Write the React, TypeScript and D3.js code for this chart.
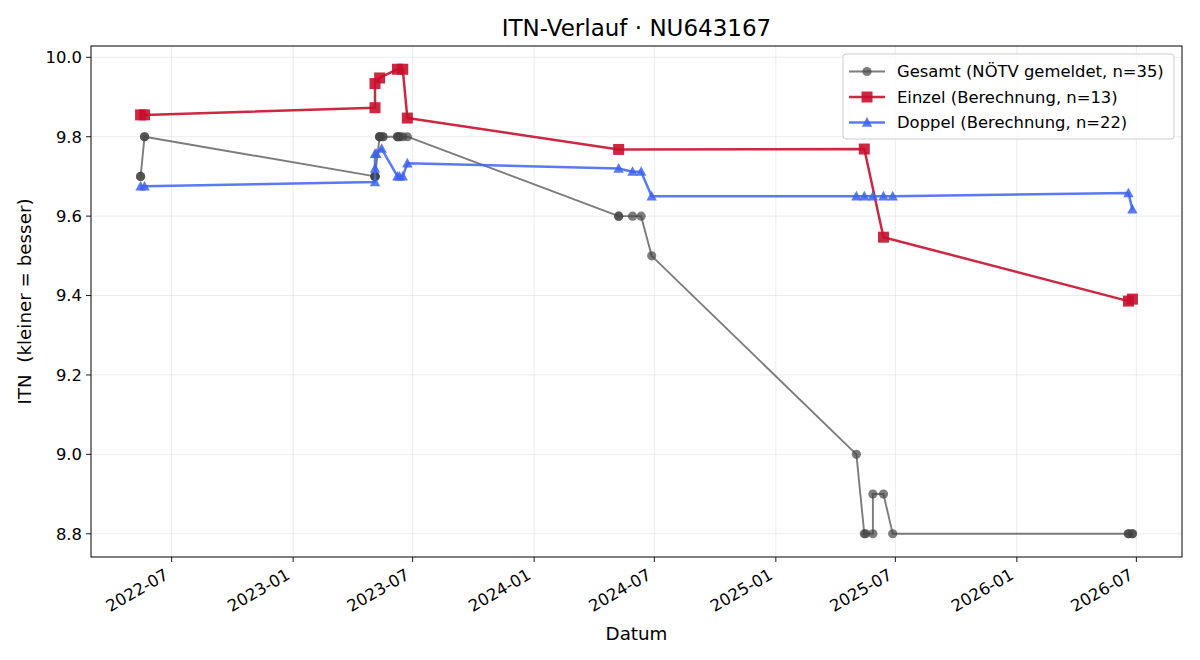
import React from "react";
import * as d3 from "d3";

// Gesamt-ITN laut NÖTV (ein Eintrag je gemeldetem Spiel)
const gesamtDates = [
  "2022-05-15", "2022-05-15", "2022-05-21", "2022-05-21",
  "2023-05-05", "2023-05-05", "2023-05-05", "2023-05-05",
  "2023-05-12", "2023-05-12", "2023-05-12", "2023-05-17", "2023-05-17",
  "2023-06-08", "2023-06-08", "2023-06-11", "2023-06-11", "2023-06-16", "2023-06-23",
  "2024-05-08", "2024-05-08", "2024-05-29", "2024-06-11", "2024-06-27",
  "2025-05-03", "2025-05-15", "2025-05-17", "2025-05-28", "2025-05-28", "2025-06-13", "2025-06-27",
  "2026-06-19", "2026-06-19", "2026-06-25", "2026-06-25",
];
const gesamtValues = [
  9.7, 9.7, 9.8, 9.8,
  9.7, 9.7, 9.7, 9.7,
  9.8, 9.8, 9.8, 9.8, 9.8,
  9.8, 9.8, 9.8, 9.8, 9.8, 9.8,
  9.6, 9.6, 9.6, 9.6, 9.5,
  9.0, 8.8, 8.8, 8.8, 8.9, 8.9, 8.8,
  8.8, 8.8, 8.8, 8.8,
];

// Einzel-ITN (Berechnung)
const einzelDates = [
  "2022-05-15", "2022-05-21", "2023-05-05", "2023-05-05", "2023-05-12",
  "2023-06-08", "2023-06-16", "2023-06-23", "2024-05-08", "2025-05-15",
  "2025-06-13", "2026-06-19", "2026-06-25",
];
const einzelValues = [
  9.855, 9.855, 9.873, 9.934, 9.948,
  9.970, 9.970, 9.847, 9.768, 9.769,
  9.547, 9.386, 9.391,
];

// Doppel-ITN (Berechnung)
const doppelDates = [
  "2022-05-15", "2022-05-21",
  "2023-05-05", "2023-05-05", "2023-05-05", "2023-05-07", "2023-05-15",
  "2023-06-08", "2023-06-11", "2023-06-16", "2023-06-23",
  "2024-05-08", "2024-05-29", "2024-06-11", "2024-06-27",
  "2025-05-03", "2025-05-15", "2025-05-28", "2025-06-13", "2025-06-27",
  "2026-06-19", "2026-06-25",
];
const doppelValues = [
  9.675, 9.675,
  9.686, 9.72, 9.757, 9.757, 9.77,
  9.70, 9.70, 9.70, 9.733,
  9.72, 9.712, 9.712, 9.65,
  9.65, 9.65, 9.65, 9.65, 9.65,
  9.658, 9.617,
];

const yTicks = [8.8, 9.0, 9.2, 9.4, 9.6, 9.8, 10.0];
const xTickLabels = [
  "2022-07", "2023-01", "2023-07", "2024-01", "2024-07",
  "2025-01", "2025-07", "2026-01", "2026-07",
];

const W = 1200;
const H = 660;
const M = { left: 91, right: 18, top: 46, bottom: 103 };
const FONT = "DejaVu Sans, sans-serif";
const TICK_FS = 16.4;
const LEGEND_FS = 16.4;
const LABEL_FS = 18.3;
const TITLE_FS = 23;

const parse = d3.utcParse("%Y-%m-%d");
const parseMonth = d3.utcParse("%Y-%m");

type Pt = { d: Date; v: number };
const toPts = (ds: string[], vs: number[]): Pt[] =>
  ds.map((s, i) => ({ d: parse(s) as Date, v: vs[i] }));

const gesamt = toPts(gesamtDates, gesamtValues);
const einzel = toPts(einzelDates, einzelValues);
const doppel = toPts(doppelDates, doppelValues);

const series = [
  { key: "g", label: `Gesamt (NÖTV gemeldet, n=${gesamt.length})`, pts: gesamt, color: "#444444", opacity: 0.7, width: 1.9, marker: "circle" },
  { key: "e", label: `Einzel (Berechnung, n=${einzel.length})`, pts: einzel, color: "#c8102e", opacity: 0.9, width: 2.5, marker: "square" },
  { key: "d", label: `Doppel (Berechnung, n=${doppel.length})`, pts: doppel, color: "#3d62f2", opacity: 0.85, width: 2.5, marker: "triangle" },
];

function Marker({ type, x, y, color, opacity }: { type: string; x: number; y: number; color: string; opacity: number }) {
  if (type === "circle") return <circle cx={x} cy={y} r={4.6} fill={color} fillOpacity={opacity} />;
  if (type === "square") return <rect x={x - 5.5} y={y - 5.5} width={11} height={11} fill={color} fillOpacity={opacity} />;
  const s = 5.2;
  return <path d={`M${x},${y - s * 1.05}L${x + s},${y + s * 0.8}L${x - s},${y + s * 0.8}Z`} fill={color} fillOpacity={opacity} />;
}

export default function App() {
  const all = [...gesamt, ...einzel, ...doppel];
  const [d0, d1] = d3.extent(all, (p) => p.d.getTime()) as [number, number];
  const [v0, v1] = d3.extent(all, (p) => p.v) as [number, number];
  const dp = (d1 - d0) * 0.05;
  const vp = (v1 - v0) * 0.05;

  const x = d3.scaleUtc().domain([new Date(d0 - dp), new Date(d1 + dp)]).range([M.left, W - M.right]);
  const y = d3.scaleLinear().domain([v0 - vp, v1 + vp]).range([H - M.bottom, M.top]);

  const line = d3.line<Pt>().x((p) => x(p.d)).y((p) => y(p.v));
  const xTicks = xTickLabels.map((s) => ({ s, d: parseMonth(s) as Date }));
  const plotB = H - M.bottom;
  const plotR = W - M.right;

  const lgX = 843, lgY = 54, lgW = 331, lgH = 85;

  return (
    <svg width={W} height={H} style={{ position: "absolute", left: 0, top: 0, background: "#fff" }} fontFamily={FONT}>
      <rect x={0} y={0} width={W} height={H} fill="#fff" />
      {/* grid */}
      <g stroke="#b0b0b0" strokeOpacity={0.3} strokeWidth={0.8}>
        {xTicks.map((t) => (
          <line key={t.s} x1={x(t.d)} x2={x(t.d)} y1={M.top} y2={plotB} />
        ))}
        {yTicks.map((t) => (
          <line key={t} x1={M.left} x2={plotR} y1={y(t)} y2={y(t)} />
        ))}
      </g>

      {/* series: line first, then markers, each with its own alpha */}
      {series.map((s) => (
        <g key={s.key}>
          <path d={line(s.pts) || ""} fill="none" stroke={s.color} strokeOpacity={s.opacity} strokeWidth={s.width} strokeLinejoin="round" />
          {s.pts.map((p, i) => (
            <Marker key={i} type={s.marker} x={x(p.d)} y={y(p.v)} color={s.color} opacity={s.opacity} />
          ))}
        </g>
      ))}

      {/* frame */}
      <rect x={M.left} y={M.top} width={plotR - M.left} height={plotB - M.top} fill="none" stroke="#000" strokeWidth={1} />

      {/* y axis */}
      {yTicks.map((t) => (
        <g key={t}>
          <line x1={M.left - 5} x2={M.left} y1={y(t)} y2={y(t)} stroke="#000" strokeWidth={0.9} />
          <text x={M.left - 9} y={y(t)} dy="0.36em" textAnchor="end" fontSize={TICK_FS}>
            {d3.format(".1f")(t)}
          </text>
        </g>
      ))}

      {/* x axis */}
      {xTicks.map((t) => (
        <g key={t.s}>
          <line x1={x(t.d)} x2={x(t.d)} y1={plotB} y2={plotB + 5} stroke="#000" strokeWidth={0.9} />
          <text
            transform={`translate(${x(t.d) - 2},${plotB + 21}) rotate(-30)`}
            textAnchor="end"
            fontSize={TICK_FS}
          >
            {t.s}
          </text>
        </g>
      ))}

      {/* labels */}
      <text x={(M.left + plotR) / 2} y={36} textAnchor="middle" fontSize={TITLE_FS}>
        ITN-Verlauf · NU643167
      </text>
      <text x={(M.left + plotR) / 2} y={640} textAnchor="middle" fontSize={LABEL_FS}>
        Datum
      </text>
      <text
        transform={`translate(31,${(M.top + plotB) / 2}) rotate(-90)`}
        textAnchor="middle"
        fontSize={LABEL_FS}
        style={{ whiteSpace: "pre" }}
      >
        {"ITN  (kleiner = besser)"}
      </text>

      {/* legend */}
      <rect x={lgX} y={lgY} width={lgW} height={lgH} rx={3} fill="#fff" fillOpacity={0.8} stroke="#cccccc" strokeWidth={1} />
      {series.map((s, i) => {
        const cy = lgY + 17.5 + i * 25.5;
        return (
          <g key={s.key}>
            <line x1={lgX + 6} x2={lgX + 42} y1={cy} y2={cy} stroke={s.color} strokeOpacity={s.opacity} strokeWidth={s.width} />
            <Marker type={s.marker} x={lgX + 24} y={cy} color={s.color} opacity={s.opacity} />
            <text x={lgX + 54} y={cy} dy="0.36em" fontSize={LEGEND_FS}>
              {s.label}
            </text>
          </g>
        );
      })}
    </svg>
  );
}
